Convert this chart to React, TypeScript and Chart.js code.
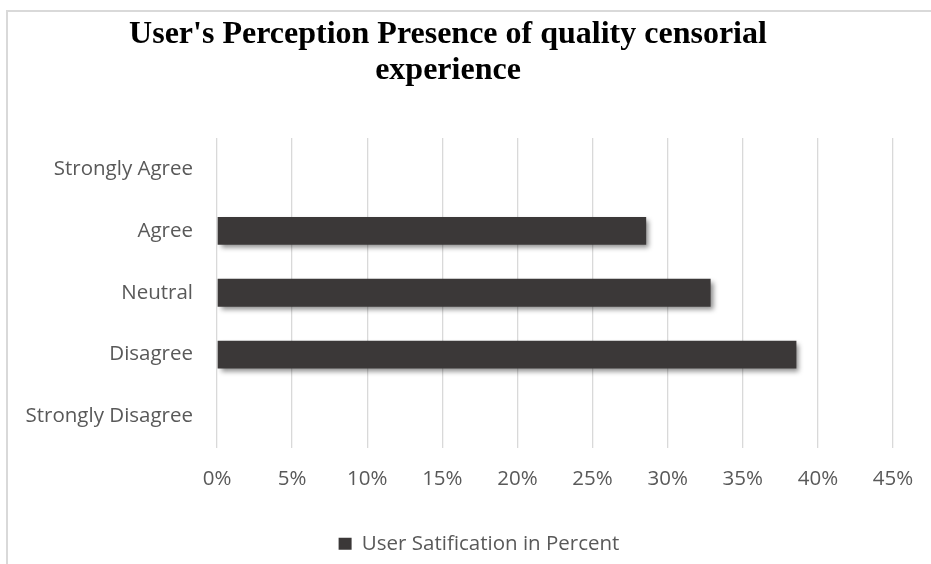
import React, { useEffect, useRef } from 'react';
import { Chart, registerables } from 'chart.js';

Chart.register(...registerables);

const categories = ['Strongly Agree', 'Agree', 'Neutral', 'Disagree', 'Strongly Disagree'];
const satisfactionPercent = [0, 28.57, 32.86, 38.57, 0];
const seriesLabel = 'User Satification in Percent';
const titleLines = ["User's Perception Presence of quality censorial", 'experience'];
const xMin = 0;
const xMax = 45;
const xStep = 5;

const TEXT_GRAY = '#595959';
const BAR_COLOR = '#3B3838';
const GRID_COLOR = '#D9D9D9';
const SANS = '"Open Sans", sans-serif';
const FONT_SIZE = 20.5;

const barShadow = {
  id: 'barShadow',
  beforeDatasetsDraw(chart: any) {
    const c = chart.ctx;
    c.save();
    c.shadowColor = 'rgba(0,0,0,0.45)';
    c.shadowBlur = 5;
    c.shadowOffsetX = 3;
    c.shadowOffsetY = 3;
  },
  afterDatasetsDraw(chart: any) {
    chart.ctx.restore();
  },
};

const legendShift = {
  id: 'legendShift',
  afterLayout(chart: any) {
    const l = chart.legend;
    if (l) {
      l.left += 31;
      l.right += 31;
    }
  },
};

export default function App() {
  const ref = useRef<HTMLCanvasElement | null>(null);

  useEffect(() => {
    if (!ref.current) return;
    const chart = new Chart(ref.current, {
      type: 'bar',
      data: {
        labels: categories,
        datasets: [
          {
            label: seriesLabel,
            data: satisfactionPercent,
            backgroundColor: BAR_COLOR,
            borderWidth: 0,
            categoryPercentage: 1,
            barPercentage: 0.45,
          },
        ],
      },
      plugins: [barShadow, legendShift],
      options: {
        indexAxis: 'y',
        responsive: false,
        animation: false,
        layout: { padding: { left: 3, right: 38, top: 0, bottom: 0 } },
        plugins: {
          title: {
            display: true,
            text: titleLines,
            color: '#000000',
            font: { family: '"Liberation Serif", "Times New Roman", serif', size: 32, weight: 'bold', lineHeight: 1.1 },
            padding: { top: 17.6, bottom: 50 },
          },
          legend: {
            display: true,
            position: 'bottom',
            labels: {
              color: TEXT_GRAY,
              font: { family: SANS, size: FONT_SIZE },
              boxWidth: 13,
              boxHeight: 12,
              padding: 22,
            },
          },
          tooltip: { enabled: false },
        },
        scales: {
          x: {
            min: xMin,
            max: xMax,
            grid: { display: true, color: GRID_COLOR, lineWidth: 1.3, drawTicks: false },
            border: { display: false },
            ticks: {
              stepSize: xStep,
              color: TEXT_GRAY,
              font: { family: SANS, size: FONT_SIZE, lineHeight: '44px' },
              padding: 10,
              callback: (v: any) => `${v}%`,
            },
          },
          y: {
            grid: { display: false, drawTicks: false },
            border: { display: false },
            ticks: {
              color: TEXT_GRAY,
              font: { family: SANS, size: FONT_SIZE },
              padding: 24,
            },
            afterFit: (scale: any) => {
              scale.width = 214;
            },
          },
        },
      },
    } as any);
    return () => chart.destroy();
  }, []);

  return (
    <div style={{ position: 'fixed', left: 0, top: 0, width: 931, height: 564, background: '#fff', overflow: 'hidden' }}>
      <div
        style={{
          position: 'absolute',
          left: 6,
          top: 10,
          width: 960,
          height: 600,
          borderLeft: `2px solid ${GRID_COLOR}`,
          borderTop: `2px solid ${GRID_COLOR}`,
        }}
      />
      <canvas ref={ref} width={931} height={564} style={{ position: 'absolute', left: 0, top: 0, display: 'block' }} />
    </div>
  );
}
